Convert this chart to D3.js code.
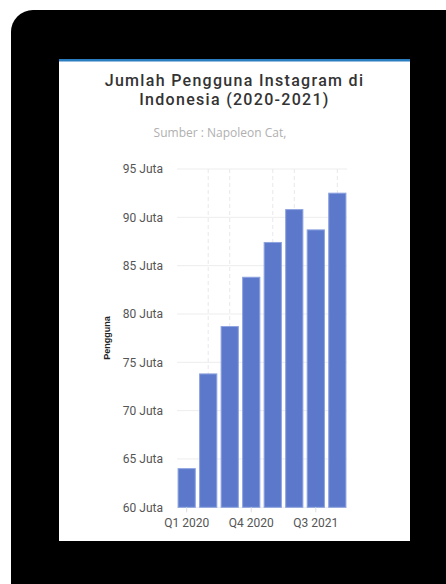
<!DOCTYPE html>
<html>
<head>
<meta charset="utf-8">
<script src="https://cdn.jsdelivr.net/npm/d3@7"></script>
<style>
  body { margin: 0; background: #fff; }
  svg { display: block; }
</style>
</head>
<body>
<div id="chart"></div>
<script>
// data (juta pengguna)
const quarters = ["Q1 2020", "Q2 2020", "Q3 2020", "Q4 2020", "Q1 2021", "Q2 2021", "Q3 2021", "Q4 2021"];
const users = [64.0, 73.8, 78.7, 83.8, 87.4, 90.8, 88.7, 92.5];
const yTicks = [60, 65, 70, 75, 80, 85, 90, 95];
const titleLines = ["Jumlah Pengguna Instagram di", "Indonesia (2020-2021)"];
const subtitle = "Sumber : Napoleon Cat,";

const width = 446, height = 584;

const svg = d3.select("#chart")
  .append("svg")
  .attr("width", width)
  .attr("height", height);

// black frame + white card
svg.append("rect")
  .attr("x", 11).attr("y", 10)
  .attr("width", 460).attr("height", 600)
  .attr("rx", 22)
  .attr("fill", "#000");

svg.append("rect")
  .attr("x", 59).attr("y", 59)
  .attr("width", 351).attr("height", 482)
  .attr("fill", "#fff");

svg.append("rect")
  .attr("x", 59).attr("y", 59)
  .attr("width", 351).attr("height", 2.5)
  .attr("fill", "#2a7dbf");

// titles
svg.selectAll(".title")
  .data(titleLines)
  .enter()
  .append("text")
  .attr("class", "title")
  .attr("x", 234.5)
  .attr("y", (d, i) => 85.5 + i * 19)
  .attr("text-anchor", "middle")
  .style("font-family", "Roboto, sans-serif")
  .style("font-weight", "500")
  .style("font-size", "16px")
  .style("letter-spacing", "1.3px")
  .style("fill", "#333")
  .text(d => d);

svg.append("text")
  .attr("x", 220)
  .attr("y", 137)
  .attr("text-anchor", "middle")
  .style("font-family", "'Open Sans', sans-serif")
  .style("font-size", "12px")
  .style("fill", "#b0b0b0")
  .text(subtitle);

// scales
const x = d3.scaleBand()
  .domain(quarters)
  .range([177, 347])
  .paddingInner(0.2)
  .paddingOuter(0.05);

const y = d3.scaleLinear()
  .domain([60, 95])
  .range([507.3, 169]);

// horizontal grid
svg.append("g")
  .selectAll("line")
  .data(yTicks)
  .enter()
  .append("line")
  .attr("x1", 177).attr("x2", 347)
  .attr("y1", d => y(d)).attr("y2", d => y(d))
  .attr("stroke", "#ededed")
  .attr("stroke-width", 1);

// vertical dashed grid (between labelled ticks)
svg.append("g")
  .selectAll("line")
  .data(quarters.filter((d, i) => i % 3 !== 0))
  .enter()
  .append("line")
  .attr("x1", d => x(d) + x.bandwidth() / 2)
  .attr("x2", d => x(d) + x.bandwidth() / 2)
  .attr("y1", 169).attr("y2", 507)
  .attr("stroke", "#e8e8e8")
  .attr("stroke-dasharray", "4,3");

// bars
svg.append("g")
  .selectAll("rect")
  .data(users)
  .enter()
  .append("rect")
  .attr("x", (d, i) => x(quarters[i]))
  .attr("y", d => y(d))
  .attr("width", x.bandwidth())
  .attr("height", d => y(60) - y(d))
  .attr("fill", "#5b78cb")
  .attr("stroke", "#8da3e0")
  .attr("stroke-width", 1);

// y axis
const yAxis = svg.append("g")
  .attr("transform", "translate(177,0)")
  .call(d3.axisLeft(y).tickValues(yTicks).tickSize(0).tickPadding(14)
    .tickFormat(d => d + " Juta"));
yAxis.select(".domain").remove();
yAxis.selectAll("text")
  .style("font-family", "Roboto, sans-serif")
  .style("font-size", "12px")
  .style("fill", "#555");

// x axis
const xAxis = svg.append("g")
  .attr("transform", "translate(0,507.3)")
  .call(d3.axisBottom(x)
    .tickValues(quarters.filter((d, i) => i % 3 === 0))
    .tickSize(5).tickPadding(6));
xAxis.select(".domain").remove();
xAxis.selectAll("line").attr("stroke", "#ddd");
xAxis.selectAll("text")
  .style("font-family", "Roboto, sans-serif")
  .style("font-size", "12px")
  .style("fill", "#555");

// y axis title
svg.append("text")
  .attr("transform", "translate(110,338) rotate(-90)")
  .attr("text-anchor", "middle")
  .style("font-family", "Arial, sans-serif")
  .style("font-weight", "bold")
  .style("font-size", "9px")
  .style("fill", "#222")
  .text("Pengguna");
</script>
</body>
</html>
